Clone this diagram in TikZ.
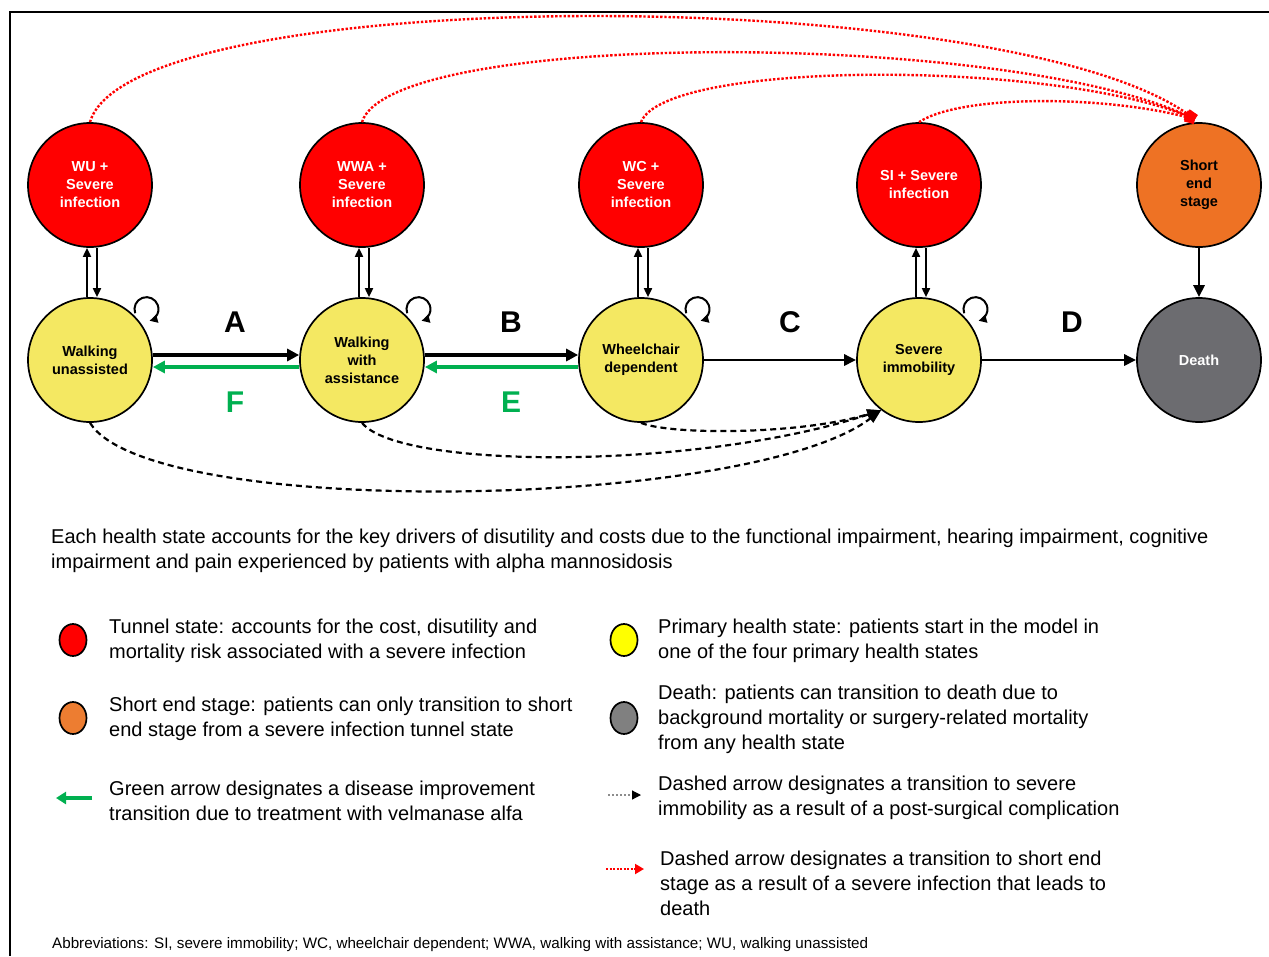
\documentclass[tikz,border=0pt]{standalone}
\usepackage{fontspec}
\setmainfont{Liberation Sans}
\usetikzlibrary{arrows.meta,calc,positioning,shapes.geometric}

\definecolor{infred}{RGB}{255,0,0}
\definecolor{stateyellow}{RGB}{244,232,98}
\definecolor{endorange}{RGB}{238,114,36}
\definecolor{deathgrey}{RGB}{108,108,112}
\definecolor{impgreen}{RGB}{0,176,80}
\definecolor{legyellow}{RGB}{255,255,0}
\definecolor{leggrey}{RGB}{128,128,128}
\definecolor{legorange}{RGB}{237,125,49}

\begin{document}
\begin{tikzpicture}[x=1pt,y=-1pt,
  state/.style={circle,draw=black,line width=1.7pt,minimum size=124pt,inner sep=0pt,
    align=center,font=\fontsize{14.5}{18}\selectfont\bfseries},
  infect/.style={state,fill=infred,text=white},
  primary/.style={state,fill=stateyellow},
  vert/.style={line width=1.8pt,-{Triangle[length=9pt,width=8pt]}},
  mainarr/.style={line width=3.6pt,-{Triangle[length=12pt,width=12pt]}},
  greenarr/.style={impgreen,line width=3.6pt,-{Triangle[length=12pt,width=12pt]}},
  thinarr/.style={line width=2.8pt,-{Triangle[length=12pt,width=11pt]}},
  loopline/.style={line width=2pt,-{Triangle[length=8pt,width=8pt]}},
  surg/.style={line width=2.2pt,dash pattern=on 6pt off 4pt,-{Triangle[length=14pt,width=10pt]}},
  reddot/.style={infred,line width=2.4pt,dash pattern=on 2.4pt off 1.8pt,-{Square[length=10pt,width=10pt]}},
  lab/.style={font=\fontsize{30}{30}\selectfont\bfseries},
  legdot/.style={ellipse,draw=black,line width=1.7pt,minimum width=27pt,minimum height=32pt,inner sep=0pt},
  legtext/.style={anchor=west,align=left,inner sep=0pt,font=\fontsize{20}{25}\selectfont}]
\useasboundingbox (0,0) rectangle (1269,956);
\draw[line width=2.4pt] (1269,12) -- (10,12) -- (10,956);

% tunnel states and end stage
\node[infect] (wuinf) at (90,185) {WU +\\Severe\\infection};
\node[infect] (wwainf) at (362,185) {WWA +\\Severe\\infection};
\node[infect] (wcinf) at (641,185) {WC +\\Severe\\infection};
\node[infect] (siinf) at (919,185) {SI + Severe\\infection};
\node[state,fill=endorange] (ses) at (1199,185) {Short\\end\\stage};

% primary health states
\node[primary] (wu) at (90,360) {Walking\\unassisted};
\node[primary] (wwa) at (362,360) {Walking\\with\\assistance};
\node[primary] (wc) at (641,360) {Wheelchair\\dependent};
\node[primary] (si) at (919,360) {Severe\\immobility};
\node[state,fill=deathgrey,text=white] (death) at (1199,360) {Death};

% infection in and out
\foreach \a/\b in {wu/wuinf,wwa/wwainf,wc/wcinf,si/siinf}{
  \draw[vert] ($(\a.north)+(-3pt,0)$) -- ($(\b.south)+(-3pt,0)$);
  \draw[vert] ($(\b.south)+(7pt,0)$) -- ($(\a.north)+(7pt,0)$);
  \draw[loopline] ($(\a.center)+(42:76pt)+(200:12pt)$) arc[start angle=200,end angle=-75,radius=12pt];
}

% progression and improvement
\draw[mainarr] ($(wu.east)+(0,5pt)$) -- ($(wwa.west)+(0,5pt)$);
\draw[greenarr] ($(wwa.west)+(0,-7pt)$) -- ($(wu.east)+(0,-7pt)$);
\draw[mainarr] ($(wwa.east)+(0,5pt)$) -- ($(wc.west)+(0,5pt)$);
\draw[greenarr] ($(wc.west)+(0,-7pt)$) -- ($(wwa.east)+(0,-7pt)$);
\draw[thinarr] (wc) -- (si);
\draw[thinarr] (si) -- (death);
\draw[thinarr] (ses) -- (death);

\node[lab] (la) at (235,322) {A};
\node[lab] (lb) at (511,322) {B};
\node[lab] (lc) at (790,322) {C};
\node[lab] (ld) at (1072,322) {D};
\node[lab,impgreen] (lf) at (235,402) {F};
\node[lab,impgreen] (le) at (511,402) {E};

% post-surgical complication
\coordinate (sitip) at (si.233);
\draw[surg] (wu.south) .. controls (150,520) and (750,510) .. (sitip);
\draw[surg] (wwa.south) .. controls (400,470) and (700,470) .. (sitip);
\draw[surg] (wc.south) .. controls (670,435) and (800,435) .. (sitip);

% severe infection to short end stage
\coordinate (sestop) at ($(ses.north)+(-4pt,3pt)$);
\draw[reddot] (wuinf.north) .. controls (130,-18) and (1000,-18) .. (sestop);
\draw[reddot] (wwainf.north) .. controls (390,30) and (1000,30) .. (sestop);
\draw[reddot] (wcinf.north) .. controls (665,60) and (1050,60) .. (sestop);
\draw[reddot] (siinf.north) .. controls (960,95) and (1100,95) .. (sestop);

% text and legend
\node[legtext] (intro) at (51,551) {Each health state accounts for the key drivers of disutility and costs due to the functional impairment, hearing impairment, cognitive\\impairment and pain experienced by patients with alpha mannosidosis};

\node[legdot,fill=infred] (kred) at (73,640) {};
\node[legtext] (tred) at (109,641) {Tunnel state: accounts for the cost, disutility and\\mortality risk associated with a severe infection};
\node[legdot,fill=legorange] (korange) at (73,718) {};
\node[legtext] (torange) at (109,719) {Short end stage: patients can only transition to short\\end stage from a severe infection tunnel state};
\coordinate (kgs) at (92,798);
\coordinate (kge) at (56,798);
\draw[impgreen,line width=3.4pt,-{Triangle[length=10pt,width=12pt]}] (kgs) -- (kge);
\node[legtext] (tgreen) at (109,801) {Green arrow designates a disease improvement\\transition due to treatment with velmanase alfa};

\node[legdot,fill=legyellow] (kyellow) at (624,640) {};
\node[legtext] (tyellow) at (658,641) {Primary health state: patients start in the model in\\one of the four primary health states};
\node[legdot,fill=leggrey] (kgrey) at (624,718) {};
\node[legtext] (tgrey) at (658,719) {Death: patients can transition to death due to\\background mortality or surgery-related mortality\\from any health state};
\coordinate (kbs) at (608,795);
\coordinate (kbe) at (641,795);
\draw[black!45,line width=1.2pt,dash pattern=on 2pt off 2pt,-{Triangle[length=9pt,width=9pt,black]}] (kbs) -- (kbe);
\node[legtext] (tblack) at (658,798) {Dashed arrow designates a transition to severe\\immobility as a result of a post-surgical complication};
\coordinate (krs) at (606,869);
\coordinate (kre) at (644,869);
\draw[infred,line width=2pt,dash pattern=on 2pt off 1.5pt,-{Triangle[length=9pt,width=10pt]}] (krs) -- (kre);
\node[legtext] (tred2) at (660,883) {Dashed arrow designates a transition to short end\\stage as a result of a severe infection that leads to\\death};

\node[anchor=west,inner sep=0pt,font=\fontsize{15.2}{17}\selectfont] (abbr) at (52,945) {Abbreviations: SI, severe immobility; WC, wheelchair dependent; WWA, walking with assistance; WU, walking unassisted};
\end{tikzpicture}
\end{document}
